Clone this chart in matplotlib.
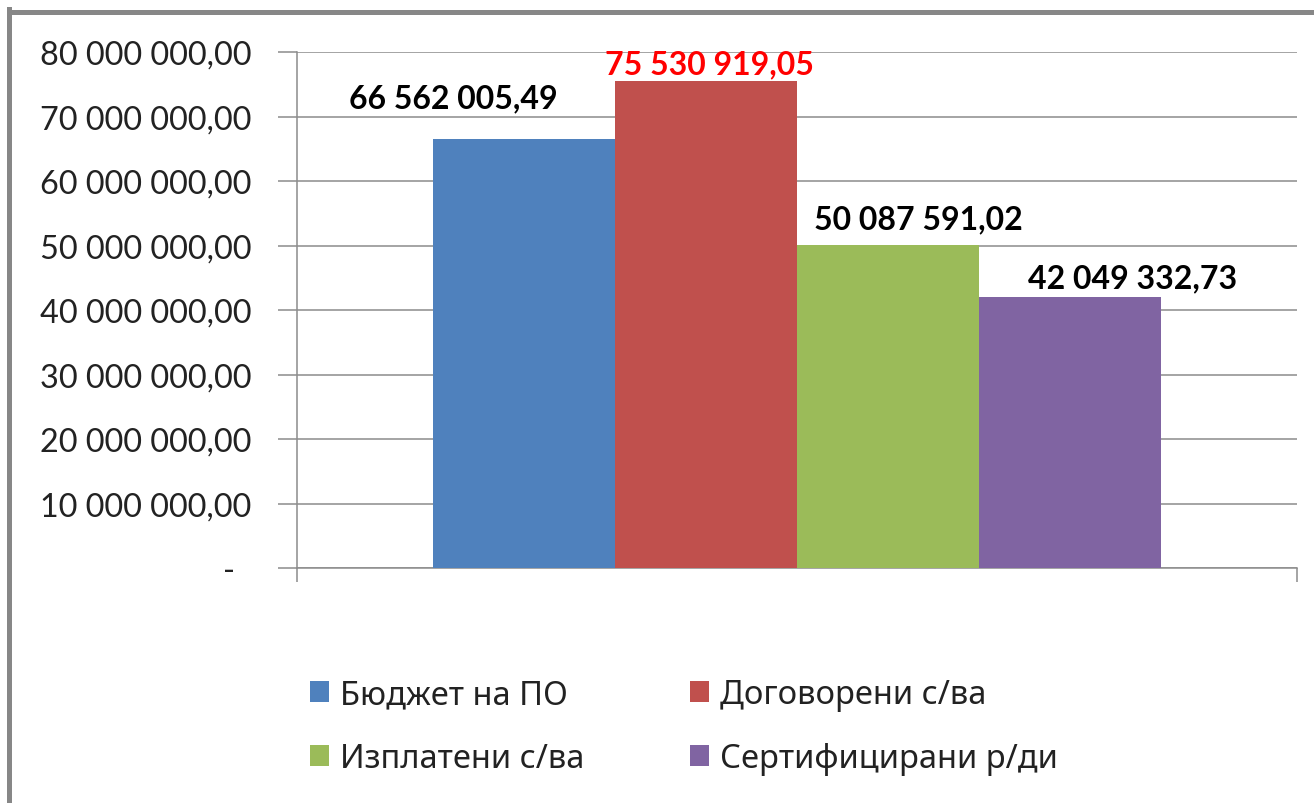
import matplotlib
matplotlib.use("Agg")
import matplotlib.pyplot as plt
from matplotlib.lines import Line2D
from matplotlib.ticker import FixedLocator, FuncFormatter

# ---- data ----
series = ["Бюджет на ПО", "Договорени с/ва", "Изплатени с/ва", "Сертифицирани р/ди"]
values = [66562005.49, 75530919.05, 50087591.02, 42049332.73]
colors = ["#4F81BD", "#C0504D", "#9BBB59", "#8064A2"]
label_colors = ["black", "red", "black", "black"]
yticks = [0, 10e6, 20e6, 30e6, 40e6, 50e6, 60e6, 70e6, 80e6]

# label position tweaks (data units) as placed in the original chart
label_dx = [-0.071, 0.003, 0.030, 0.063]
label_dy = [4.9e6, 1.2e6, 2.6e6, 1.5e6]

W, H = 1314, 804
fig = plt.figure(figsize=(W / 100, H / 100), dpi=100)
fig.patch.set_facecolor("white")

num_font = ["Lato", "Open Sans", "DejaVu Sans"]
leg_font = ["Noto Sans", "DejaVu Sans"]

ax = fig.add_axes([297 / W, 1 - 569 / H, 1000 / W, (569 - 53) / H])
ax.set_xlim(0, 1)
ax.set_ylim(0, 80e6)

grid_c = "#8C8C8C"
bw = 0.182
n = len(values)
handles = []
for i, (s, v, c) in enumerate(zip(series, values, colors)):
    x = 0.5 + (i - (n - 1) / 2) * bw
    b = ax.bar(x, v, width=bw, color=c, edgecolor="none", label=s, zorder=3)
    handles.append(b)
    txt = f"{v:,.2f}".replace(",", " ").replace(".", ",")
    ax.text(x + label_dx[i], v + label_dy[i], txt, ha="center", va="baseline",
            fontsize=23, fontweight="bold", color=label_colors[i],
            family=num_font, zorder=4)

ax.yaxis.set_major_locator(FixedLocator(yticks))


def fmt(y, pos):
    if y == 0:
        return "-  "
    return f"{y:,.2f}".replace(",", " ").replace(".", ",")


ax.yaxis.set_major_formatter(FuncFormatter(fmt))
ax.tick_params(axis="y", length=14, width=1.1, color=grid_c, pad=19,
               labelsize=23.3, labelcolor="#222222")
for lab in ax.get_yticklabels():
    lab.set_family(num_font)

ax.set_xticks([0, 1])
ax.set_xticklabels(["", ""])
ax.tick_params(axis="x", length=10, width=1.1, color=grid_c)

ax.grid(axis="y", color=grid_c, linewidth=1.1, zorder=0)
ax.set_axisbelow(True)
for sp in ["top", "right"]:
    ax.spines[sp].set_visible(False)
for sp in ["left", "bottom"]:
    ax.spines[sp].set_color(grid_c)
    ax.spines[sp].set_linewidth(1.1)

# legend filled row by row (2 columns)
order = [0, 2, 1, 3]
leg = fig.legend([handles[i] for i in order], [series[i] for i in order],
                 loc="upper left", bbox_to_anchor=(310 / W, 1 - 679 / H),
                 ncol=2, frameon=False, prop={"family": leg_font, "size": 23.5},
                 handlelength=0.58, handleheight=0.58, handletextpad=0.35,
                 columnspacing=3.22, labelspacing=0.95, borderpad=0,
                 borderaxespad=0)
for t in leg.get_texts():
    t.set_color("#222222")

# outer frame (left and top edges visible)
frame_c = "#878787"
fig.add_artist(Line2D([9 / W, 9 / W], [0, 1 - 10 / H], transform=fig.transFigure,
                      color=frame_c, linewidth=3.6, solid_capstyle="projecting"))
fig.add_artist(Line2D([9 / W, 1], [1 - 12.5 / H, 1 - 12.5 / H], transform=fig.transFigure,
                      color=frame_c, linewidth=3.6, solid_capstyle="butt"))

fig.savefig("out.png", dpi=100)
